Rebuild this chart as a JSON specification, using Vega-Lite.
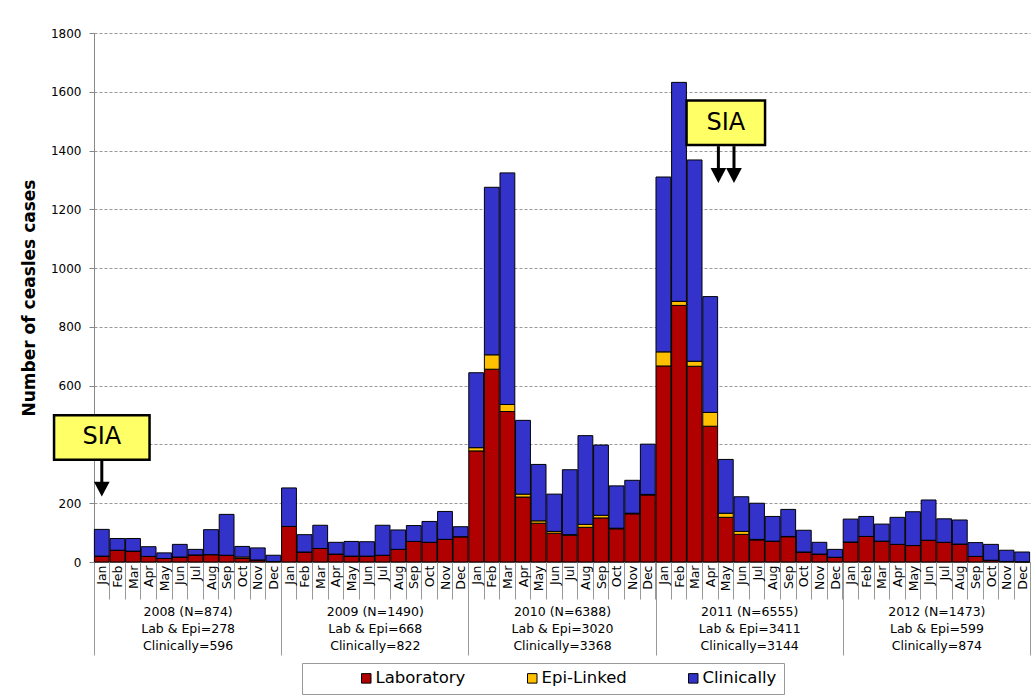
{
  "$schema": "https://vega.github.io/schema/vega-lite/v6.json",
  "width": 936,
  "height": 529,
  "autosize": {"type": "none"},
  "padding": {"left": 94, "top": 33, "right": 4, "bottom": 135},
  "background": "white",
  "config": {
    "font": "DejaVu Sans",
    "view": {"stroke": null},
    "axis": {"labelColor": "#000", "titleColor": "#000", "labelFont": "DejaVu Sans", "titleFont": "DejaVu Sans"},
    "legend": {"labelFont": "DejaVu Sans"}
  },
  "datasets": {
    "monthly": [
      {"m": "2008-01", "Laboratory": 20, "Epi-Linked": 0, "Clinically": 91},
      {"m": "2008-02", "Laboratory": 40, "Epi-Linked": 0, "Clinically": 40},
      {"m": "2008-03", "Laboratory": 37, "Epi-Linked": 0, "Clinically": 43},
      {"m": "2008-04", "Laboratory": 19, "Epi-Linked": 0, "Clinically": 33},
      {"m": "2008-05", "Laboratory": 12, "Epi-Linked": 0, "Clinically": 19},
      {"m": "2008-06", "Laboratory": 17, "Epi-Linked": 0, "Clinically": 43},
      {"m": "2008-07", "Laboratory": 24, "Epi-Linked": 0, "Clinically": 19},
      {"m": "2008-08", "Laboratory": 25, "Epi-Linked": 0, "Clinically": 85},
      {"m": "2008-09", "Laboratory": 23, "Epi-Linked": 0, "Clinically": 139},
      {"m": "2008-10", "Laboratory": 12, "Epi-Linked": 5, "Clinically": 36},
      {"m": "2008-11", "Laboratory": 7, "Epi-Linked": 0, "Clinically": 41},
      {"m": "2008-12", "Laboratory": 2, "Epi-Linked": 0, "Clinically": 21},
      {"m": "2009-01", "Laboratory": 121, "Epi-Linked": 0, "Clinically": 131},
      {"m": "2009-02", "Laboratory": 34, "Epi-Linked": 0, "Clinically": 59},
      {"m": "2009-03", "Laboratory": 46, "Epi-Linked": 0, "Clinically": 79},
      {"m": "2009-04", "Laboratory": 27, "Epi-Linked": 0, "Clinically": 40},
      {"m": "2009-05", "Laboratory": 20, "Epi-Linked": 0, "Clinically": 50},
      {"m": "2009-06", "Laboratory": 20, "Epi-Linked": 0, "Clinically": 49},
      {"m": "2009-07", "Laboratory": 23, "Epi-Linked": 0, "Clinically": 102},
      {"m": "2009-08", "Laboratory": 43, "Epi-Linked": 0, "Clinically": 66},
      {"m": "2009-09", "Laboratory": 70, "Epi-Linked": 0, "Clinically": 54},
      {"m": "2009-10", "Laboratory": 67, "Epi-Linked": 0, "Clinically": 71},
      {"m": "2009-11", "Laboratory": 77, "Epi-Linked": 0, "Clinically": 95},
      {"m": "2009-12", "Laboratory": 86, "Epi-Linked": 0, "Clinically": 34},
      {"m": "2010-01", "Laboratory": 378, "Epi-Linked": 11, "Clinically": 255},
      {"m": "2010-02", "Laboratory": 656, "Epi-Linked": 49, "Clinically": 570},
      {"m": "2010-03", "Laboratory": 512, "Epi-Linked": 24, "Clinically": 788},
      {"m": "2010-04", "Laboratory": 221, "Epi-Linked": 10, "Clinically": 251},
      {"m": "2010-05", "Laboratory": 132, "Epi-Linked": 8, "Clinically": 192},
      {"m": "2010-06", "Laboratory": 98, "Epi-Linked": 6, "Clinically": 127},
      {"m": "2010-07", "Laboratory": 91, "Epi-Linked": 2, "Clinically": 221},
      {"m": "2010-08", "Laboratory": 118, "Epi-Linked": 10, "Clinically": 302},
      {"m": "2010-09", "Laboratory": 150, "Epi-Linked": 9, "Clinically": 239},
      {"m": "2010-10", "Laboratory": 113, "Epi-Linked": 2, "Clinically": 144},
      {"m": "2010-11", "Laboratory": 164, "Epi-Linked": 2, "Clinically": 112},
      {"m": "2010-12", "Laboratory": 228, "Epi-Linked": 2, "Clinically": 171},
      {"m": "2011-01", "Laboratory": 667, "Epi-Linked": 48, "Clinically": 595},
      {"m": "2011-02", "Laboratory": 873, "Epi-Linked": 14, "Clinically": 745},
      {"m": "2011-03", "Laboratory": 666, "Epi-Linked": 17, "Clinically": 685},
      {"m": "2011-04", "Laboratory": 462, "Epi-Linked": 47, "Clinically": 394},
      {"m": "2011-05", "Laboratory": 152, "Epi-Linked": 14, "Clinically": 183},
      {"m": "2011-06", "Laboratory": 94, "Epi-Linked": 10, "Clinically": 118},
      {"m": "2011-07", "Laboratory": 75, "Epi-Linked": 2, "Clinically": 123},
      {"m": "2011-08", "Laboratory": 70, "Epi-Linked": 1, "Clinically": 84},
      {"m": "2011-09", "Laboratory": 86, "Epi-Linked": 1, "Clinically": 92},
      {"m": "2011-10", "Laboratory": 33, "Epi-Linked": 1, "Clinically": 74},
      {"m": "2011-11", "Laboratory": 27, "Epi-Linked": 0, "Clinically": 40},
      {"m": "2011-12", "Laboratory": 16, "Epi-Linked": 0, "Clinically": 27},
      {"m": "2012-01", "Laboratory": 68, "Epi-Linked": 0, "Clinically": 78},
      {"m": "2012-02", "Laboratory": 87, "Epi-Linked": 0, "Clinically": 68},
      {"m": "2012-03", "Laboratory": 71, "Epi-Linked": 0, "Clinically": 58},
      {"m": "2012-04", "Laboratory": 60, "Epi-Linked": 0, "Clinically": 92},
      {"m": "2012-05", "Laboratory": 56, "Epi-Linked": 0, "Clinically": 115},
      {"m": "2012-06", "Laboratory": 74, "Epi-Linked": 0, "Clinically": 137},
      {"m": "2012-07", "Laboratory": 67, "Epi-Linked": 0, "Clinically": 80},
      {"m": "2012-08", "Laboratory": 61, "Epi-Linked": 0, "Clinically": 82},
      {"m": "2012-09", "Laboratory": 19, "Epi-Linked": 0, "Clinically": 47},
      {"m": "2012-10", "Laboratory": 6, "Epi-Linked": 0, "Clinically": 54},
      {"m": "2012-11", "Laboratory": 2, "Epi-Linked": 0, "Clinically": 38},
      {"m": "2012-12", "Laboratory": 1, "Epi-Linked": 0, "Clinically": 33}
    ],
    "sia": [
      {"m": "2008-01", "y": 424, "box": "a", "label": "SIA"},
      {"m": "2011-05", "y": 1495, "box": "b", "label": "SIA"}
    ],
    "arrows": [
      {"m": "2008-01", "y": 344, "y2": 270, "head": 248, "box": "a"},
      {"m": "2011-05", "y": 1415, "y2": 1338, "head": 1315, "box": "b"},
      {"m": "2011-06", "y": 1415, "y2": 1338, "head": 1315, "box": "b"}
    ],
    "years": [
      {"g": "2008 (N=874)|Lab & Epi=278|Clinically=596"},
      {"g": "2009 (N=1490)|Lab & Epi=668|Clinically=822"},
      {"g": "2010 (N=6388)|Lab & Epi=3020|Clinically=3368"},
      {"g": "2011 (N=6555)|Lab & Epi=3411|Clinically=3144"},
      {"g": "2012 (N=1473)|Lab & Epi=599|Clinically=874"}
    ]
  },
  "layer": [
    {
      "layer": [
        {
          "data": {"name": "monthly"},
          "transform": [{"fold": ["Laboratory", "Epi-Linked", "Clinically"], "as": ["type", "n"]}],
          "mark": {"type": "bar", "stroke": "#000", "strokeWidth": 1},
          "encoding": {
            "x": {
              "field": "m", "type": "ordinal",
              "scale": {"paddingInner": 0.05, "paddingOuter": 0.025},
              "axis": {
                "orient": "bottom", "title": null,
                "tickBand": "extent", "tickSize": 37, "tickColor": "#999", "tickWidth": 1,
                "domainColor": "#888",
                "labelAngle": -90, "labelAlign": "right", "labelBaseline": "middle",
                "labelPadding": -34, "labelFontSize": 12.5, "labelOverlap": false,
                "labelExpr": "datum.value ? ['Jan','Feb','Mar','Apr','May','Jun','Jul','Aug','Sep','Oct','Nov','Dec'][toNumber(substring(datum.value,5,7))-1] : ''"
              }
            },
            "y": {
              "field": "n", "type": "quantitative", "stack": "zero",
              "title": "Number of ceasles cases",
              "scale": {"domain": [0, 1800], "nice": false},
              "axis": {
                "values": [0, 200, 400, 600, 800, 1000, 1200, 1400, 1600, 1800],
                "format": "d",
                "grid": true, "gridDash": [3, 2], "gridColor": "#999", "gridWidth": 1,
                "domainColor": "#888", "tickColor": "#888", "tickSize": 5,
                "labelPadding": 8, "labelFontSize": 12,
                "titleFontSize": 17, "titleFontWeight": "bold", "titlePadding": 12
              }
            },
            "color": {
              "field": "type", "type": "nominal",
              "sort": ["Laboratory", "Epi-Linked", "Clinically"],
              "scale": {"domain": ["Laboratory", "Epi-Linked", "Clinically"], "range": ["#B00000", "#FFC000", "#3333CC"]},
              "legend": {
                "orient": "none", "legendX": 208, "legendY": 630,
                "direction": "horizontal", "title": null,
                "strokeColor": "#999", "fillColor": "#fff", "padding": 7,
                "symbolOffset": 49, "labelOffset": 1,
                "columnPadding": 9, "labelFontSize": 16.5, "labelColor": "#000",
                "symbolType": "square", "symbolSize": 90, "symbolStrokeColor": "#000", "symbolStrokeWidth": 1
              }
            },
            "order": {"field": "type", "sort": "descending"}
          }
        },
        {
          "data": {"name": "sia"},
          "transform": [{"filter": "datum.box == 'a'"}],
          "mark": {"type": "point", "shape": "M-1,-0.466L1,-0.466L1,0.466L-1,0.466Z", "size": 9120, "fill": "#FFFF66", "stroke": "#000", "strokeWidth": 2.5, "opacity": 1, "filled": true},
          "encoding": {
            "x": {"field": "m", "type": "ordinal"},
            "y": {"field": "y", "type": "quantitative", "title": "Number of ceasles cases"}
          }
        },
        {
          "data": {"name": "sia"},
          "transform": [{"filter": "datum.box == 'b'"}],
          "mark": {"type": "point", "shape": "M-1,-0.567L1,-0.567L1,0.567L-1,0.567Z", "size": 6162, "fill": "#FFFF66", "stroke": "#000", "strokeWidth": 2.5, "opacity": 1, "filled": true},
          "encoding": {
            "x": {"field": "m", "type": "ordinal"},
            "y": {"field": "y", "type": "quantitative", "title": "Number of ceasles cases"}
          }
        },
        {
          "data": {"name": "sia"},
          "mark": {"type": "text", "fontSize": 24, "font": "DejaVu Sans", "color": "#000", "align": "center", "baseline": "middle"},
          "encoding": {
            "x": {"field": "m", "type": "ordinal"},
            "y": {"field": "y", "type": "quantitative", "title": "Number of ceasles cases"},
            "text": {"field": "label"}
          }
        },
        {
          "data": {"name": "arrows"},
          "transform": [{"filter": "datum.box == 'a'"}],
          "mark": {"type": "rule", "stroke": "#000", "strokeWidth": 3},
          "encoding": {
            "x": {"field": "m", "type": "ordinal"},
            "y": {"field": "y", "type": "quantitative", "title": "Number of ceasles cases"},
            "y2": {"field": "y2"}
          }
        },
        {
          "data": {"name": "arrows"},
          "transform": [{"filter": "datum.box == 'a'"}],
          "mark": {"type": "point", "shape": "M-1,-0.95L1,-0.95L0,0.95Z", "size": 246, "fill": "#000", "stroke": null, "opacity": 1, "filled": true},
          "encoding": {
            "x": {"field": "m", "type": "ordinal"},
            "y": {"field": "head", "type": "quantitative", "title": "Number of ceasles cases"}
          }
        },
        {
          "data": {"name": "arrows"},
          "transform": [{"filter": "datum.box == 'b'"}],
          "mark": {"type": "rule", "stroke": "#000", "strokeWidth": 3},
          "encoding": {
            "x": {"field": "m", "type": "ordinal", "bandPosition": 0},
            "y": {"field": "y", "type": "quantitative", "title": "Number of ceasles cases"},
            "y2": {"field": "y2"}
          }
        },
        {
          "data": {"name": "arrows"},
          "transform": [{"filter": "datum.box == 'b'"}],
          "mark": {"type": "point", "shape": "M-1,-0.95L1,-0.95L0,0.95Z", "size": 246, "fill": "#000", "stroke": null, "opacity": 1, "filled": true},
          "encoding": {
            "x": {"field": "m", "type": "ordinal", "bandPosition": 0},
            "y": {"field": "head", "type": "quantitative", "title": "Number of ceasles cases"}
          }
        }
      ]
    },
    {
      "data": {"name": "years"},
      "mark": {"type": "bar", "opacity": 0},
      "encoding": {
        "x": {
          "field": "g", "type": "ordinal",
          "scale": {"paddingInner": 0, "paddingOuter": 0},
          "axis": {
            "orient": "bottom", "title": null, "domain": false, "grid": false,
            "tickBand": "extent", "tickSize": 93, "tickColor": "#999", "tickWidth": 1,
            "labelExpr": "datum.value ? split(datum.value, '|') : ''",
            "labelPadding": -50, "labelBaseline": "top", "labelAngle": 0, "labelAlign": "center",
            "labelFontSize": 12.5, "labelLineHeight": 17, "labelOverlap": false
          }
        }
      }
    }
  ],
  "resolve": {"scale": {"x": "independent"}, "axis": {"x": "independent"}}
}
